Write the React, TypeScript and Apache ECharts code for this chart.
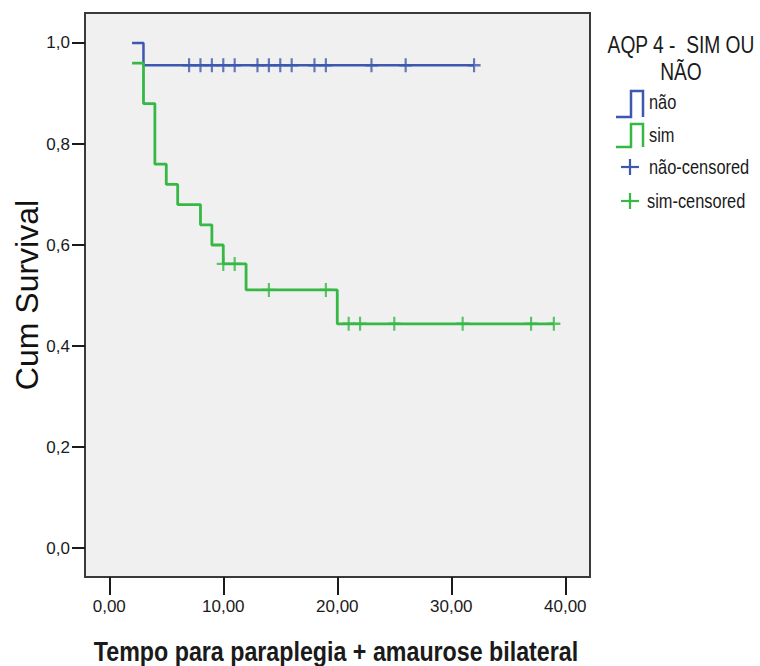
import React, { useEffect, useRef } from 'react';
import * as echarts from 'echarts';

// Kaplan-Meier steps (time, cumulative survival)
const naoTimes = [2, 3, 32];
const naoSurv = [1.0, 0.956, 0.956];
const simTimes = [2, 3, 4, 5, 6, 8, 9, 10, 12, 20, 39];
const simSurv = [0.96, 0.88, 0.76, 0.72, 0.68, 0.64, 0.6, 0.5625, 0.511, 0.444, 0.444];

// censored observations
const naoCensorTimes = [7, 8, 9, 10, 11, 13, 14, 15, 16, 18, 19, 23, 26, 32];
const naoCensorSurv = [0.956, 0.956, 0.956, 0.956, 0.956, 0.956, 0.956, 0.956, 0.956, 0.956, 0.956, 0.956, 0.956, 0.956];
const simCensorTimes = [10, 11, 14, 19, 21, 22, 25, 31, 37, 39];
const simCensorSurv = [0.5625, 0.5625, 0.511, 0.511, 0.444, 0.444, 0.444, 0.444, 0.444, 0.444];

const xTicks = [0, 10, 20, 30, 40];
const yTicks = [0, 0.2, 0.4, 0.6, 0.8, 1.0];

const xTitle = 'Tempo para paraplegia + amaurose bilateral';
const yTitle = 'Cum Survival';
const legendTitle = ['AQP 4 -  SIM OU', 'NÃO'];
const legendNames = ['não', 'sim', 'não-censored', 'sim-censored'];

const BLUE = '#3d58ae';
const GREEN = '#36b845';
const SANS = '"Liberation Sans", Arial, sans-serif';
const PLUS = 'path://M5,0L7,0L7,5L12,5L12,7L7,7L7,12L5,12L5,7L0,7L0,5L5,5Z';

const zip = (a: number[], b: number[]) => a.map((v, i) => [v, b[i]]);

export default function App() {
  const ref = useRef<HTMLDivElement>(null);
  useEffect(() => {
    document.body.style.margin = '0';
    const chart = echarts.init(ref.current!, null, { renderer: 'svg' });
    const condensedText = (
      text: string,
      x: number,
      y: number,
      align: string,
      size: number,
      scaleX: number,
      weight = 'normal'
    ) => ({
      type: 'text',
      x,
      y,
      scaleX,
      style: {
        text,
        fill: '#1a1a1a',
        font: `${weight} ${size}px ${SANS}`,
        textAlign: align,
        textVerticalAlign: 'middle',
      },
    });
    chart.setOption({
      animation: false,
      backgroundColor: '#ffffff',
      grid: {
        left: 85,
        top: 13,
        right: 170,
        bottom: 89,
        outerBoundsMode: 'none',
        containLabel: false,
        show: true,
        backgroundColor: '#f0f0f0',
        borderColor: '#3a3a3a',
        borderWidth: 2,
      },
      xAxis: {
        type: 'value',
        min: -2.13,
        max: 42.17,
        axisLine: { show: false, onZero: false },
        splitLine: { show: false },
        axisTick: { show: true, customValues: xTicks, length: 18, lineStyle: { color: '#1a1a1a', width: 2 } },
        axisLabel: {
          customValues: xTicks,
          margin: 21,
          color: '#1a1a1a',
          fontSize: 17,
          fontFamily: SANS,
          formatter: (v: number) => v.toFixed(2).replace('.', ','),
        },
      },
      yAxis: {
        type: 'value',
        min: -0.0574,
        max: 1.0594,
        axisLine: { show: false, onZero: false },
        splitLine: { show: false },
        axisTick: { show: true, customValues: yTicks, length: 13, lineStyle: { color: '#1a1a1a', width: 2 } },
        axisLabel: {
          customValues: yTicks,
          margin: 15,
          color: '#1a1a1a',
          fontSize: 17,
          fontFamily: SANS,
          formatter: (v: number) => v.toFixed(1).replace('.', ','),
        },
        name: yTitle,
        nameLocation: 'middle',
        nameRotate: 90,
        nameGap: 42,
        nameMoveOverlap: false,
        nameTextStyle: { color: '#111', fontSize: 32, fontFamily: SANS },
      },
      series: [
        {
          name: 'não',
          type: 'line',
          step: 'end',
          data: zip(naoTimes, naoSurv),
          showSymbol: false,
          lineStyle: { color: BLUE, width: 2.5 },
          z: 2,
        },
        {
          name: 'sim',
          type: 'line',
          step: 'end',
          data: zip(simTimes, simSurv),
          showSymbol: false,
          lineStyle: { color: GREEN, width: 2.8 },
          z: 3,
        },
        {
          name: 'não-censored',
          type: 'scatter',
          data: zip(naoCensorTimes, naoCensorSurv),
          symbol: PLUS,
          symbolSize: [13, 14],
          itemStyle: { color: BLUE },
          z: 4,
        },
        {
          name: 'sim-censored',
          type: 'scatter',
          data: zip(simCensorTimes, simCensorSurv),
          symbol: PLUS,
          symbolSize: [13, 14],
          itemStyle: { color: GREEN },
          z: 4,
        },
      ],
      graphic: [
        condensedText(xTitle, 336, 651, 'center', 28, 0.83, 'bold'),
        condensedText(legendTitle[0], 681, 45, 'center', 24, 0.8),
        condensedText(legendTitle[1], 681, 72, 'center', 24, 0.8),
        {
          type: 'polyline',
          shape: { points: [[616, 117], [631, 117], [631, 91], [643, 91], [643, 117]] },
          style: { stroke: BLUE, lineWidth: 2.5, fill: null },
        },
        {
          type: 'polyline',
          shape: { points: [[616, 147], [631, 147], [631, 124], [643, 124], [643, 147]] },
          style: { stroke: GREEN, lineWidth: 2.5, fill: null },
        },
        { type: 'line', shape: { x1: 621, y1: 167, x2: 639, y2: 167 }, style: { stroke: BLUE, lineWidth: 2.2 } },
        { type: 'line', shape: { x1: 630, y1: 159, x2: 630, y2: 175 }, style: { stroke: BLUE, lineWidth: 2.2 } },
        { type: 'line', shape: { x1: 621, y1: 201, x2: 639, y2: 201 }, style: { stroke: GREEN, lineWidth: 2.2 } },
        { type: 'line', shape: { x1: 630, y1: 193, x2: 630, y2: 209 }, style: { stroke: GREEN, lineWidth: 2.2 } },
        condensedText(legendNames[0], 649, 102, 'left', 20, 0.82),
        condensedText(legendNames[1], 649, 135, 'left', 20, 0.82),
        condensedText(legendNames[2], 649, 167, 'left', 20, 0.82),
        condensedText(legendNames[3], 647, 201, 'left', 20, 0.82),
      ],
    });
    return () => chart.dispose();
  }, []);
  return <div ref={ref} style={{ width: 760, height: 666 }} />;
}
